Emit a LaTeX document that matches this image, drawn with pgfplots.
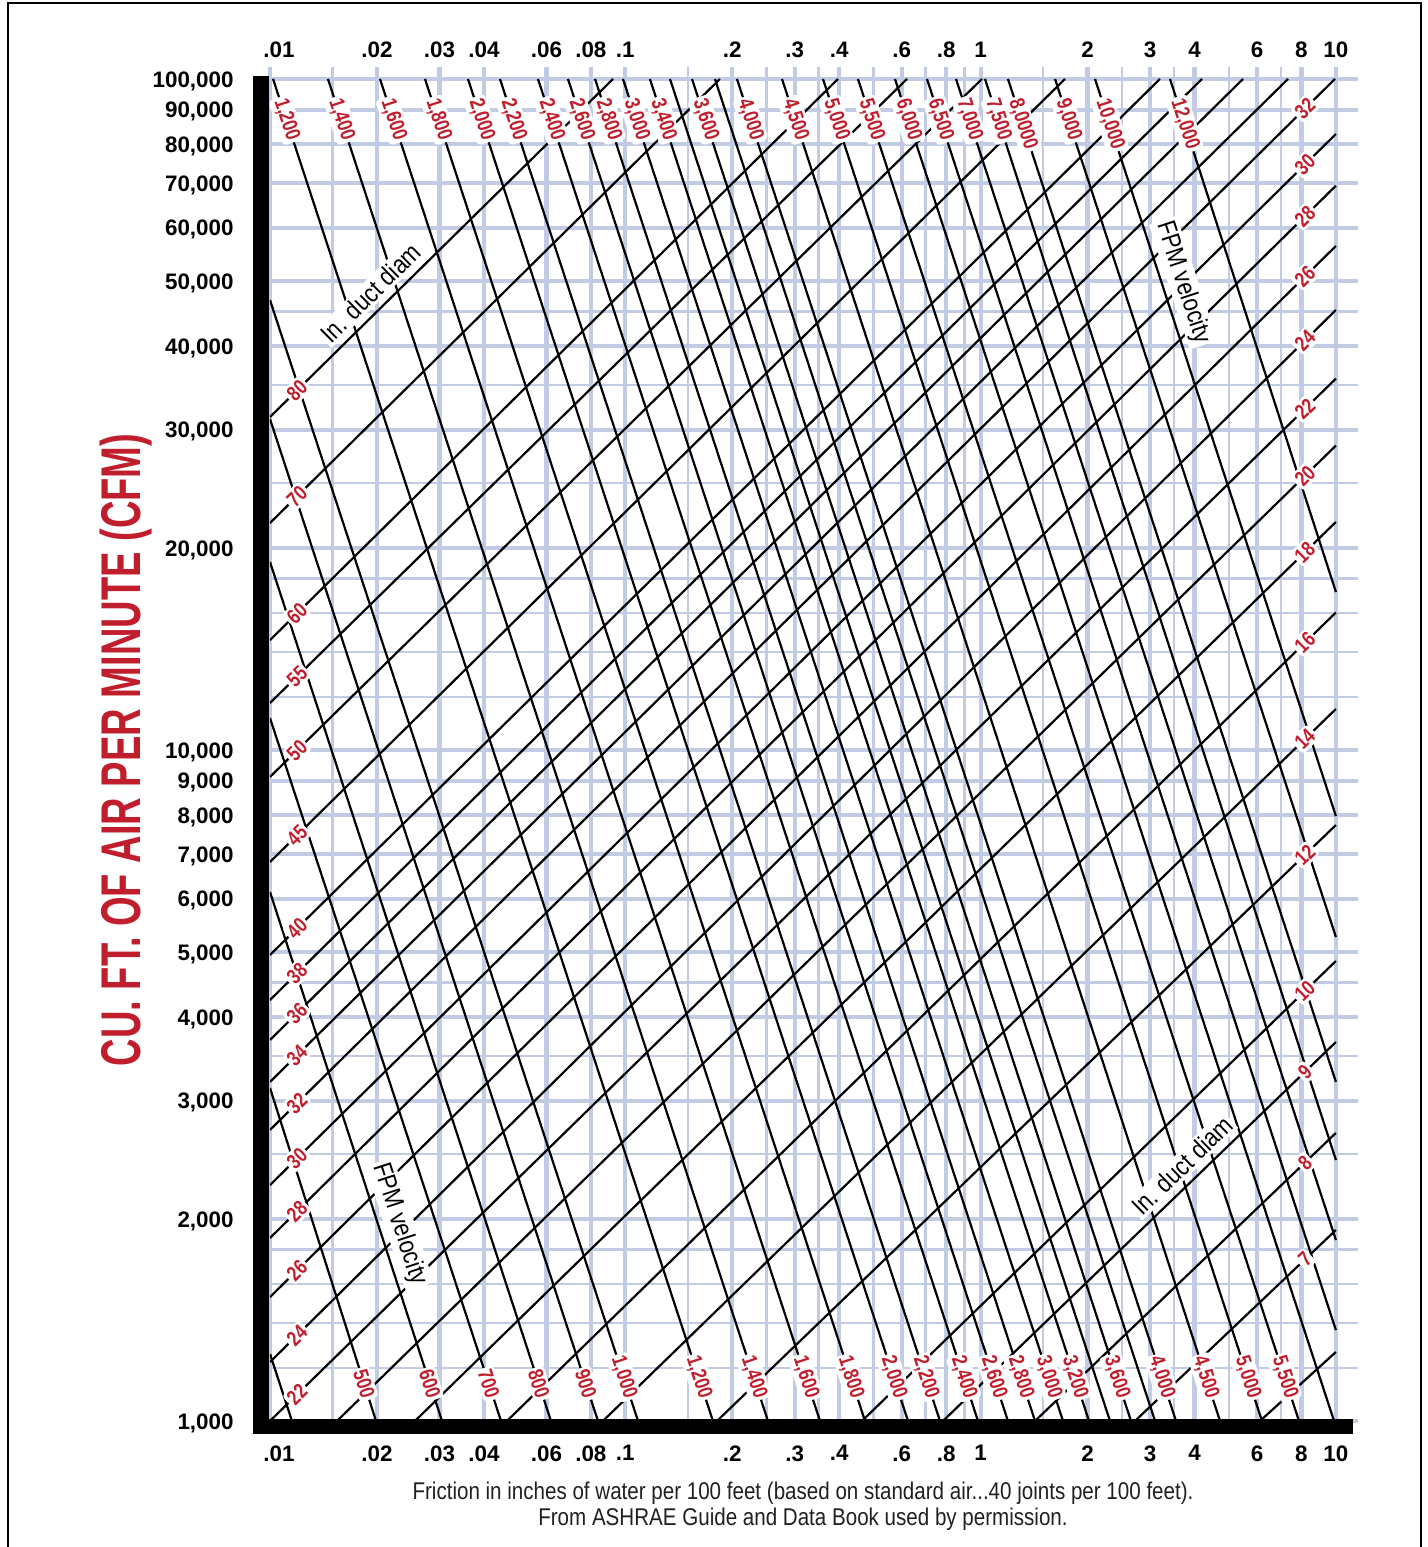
\documentclass[border=0pt]{standalone}
\usepackage{fontspec}
\setmainfont{Liberation Sans}
\newfontfamily\condf[FakeStretch=0.85]{Liberation Sans}
\newfontfamily\lblf[FakeStretch=0.8]{Liberation Sans}
\newfontfamily\titlef[FakeStretch=0.68]{Liberation Sans}
\usepackage{pgfplots}
\pgfplotsset{compat=1.18}
\definecolor{gridc}{RGB}{193,204,228}
\definecolor{lblred}{RGB}{193,30,45}
\definecolor{captc}{RGB}{35,31,32}
\newcommand{\LN}[4]{\addplot[black, line width=1.1pt] coordinates {(#1,#2) (#3,#4)};}
\newcommand{\LB}[6]{\addplot[draw=none] coordinates {(#1,#2) (#3,#4)} node[#5] {#6};}
\begin{document}
\begin{tikzpicture}[
  lbl/.style={text=lblred, font=\fontsize{10.6}{10.6}\selectfont\lblf\bfseries, fill=white, inner sep=1.2pt, rounded corners=2pt, sloped},
  ann/.style={text=black, font=\fontsize{13}{13}\selectfont\condf, fill=white, inner sep=1.2pt, outer sep=3pt, sloped, anchor=south}
]
\useasboundingbox (-135pt,-63pt) rectangle (579pt,710.5pt);
\begin{axis}[
  at={(0pt,0pt)}, anchor=south west,
  scale only axis, width=544pt, height=677pt,
  xmode=log, ymode=log,
  xmin=0.01, xmax=11.54, ymin=1000, ymax=104210,
  axis line style={draw=none},
  major tick length=0pt, minor tick length=0pt,
  xtick={0.01,0.02,0.03,0.04,0.06,0.08,0.1,0.2,0.3,0.4,0.6,0.8,1,2,3,4,6,8,10},
  xticklabels={\hspace*{9pt}.01,.02,.03,.04,.06,.08,.1,.2,.3,.4,.6,.8,1,2,3,4,6,8,10},
  minor xtick={0.015,0.15,0.25,0.35,0.5,0.7,0.9,1.5,2.5,3.5,5,7},
  ytick={1000,2000,3000,4000,5000,6000,7000,8000,9000,10000,20000,30000,40000,50000,60000,70000,80000,90000,100000},
  yticklabels={{1,000},{2,000},{3,000},{4,000},{5,000},{6,000},{7,000},{8,000},{9,000},{10,000},{20,000},{30,000},{40,000},{50,000},{60,000},{70,000},{80,000},{90,000},{100,000}},
  minor ytick={1200,1400,1600,1800,2500,3500,4500,12000,14000,16000,18000,25000,35000,45000},
  grid=both,
  major grid style={draw=gridc, line width=2.1pt},
  minor grid style={draw=gridc, line width=1.3pt},
  xticklabel style={font=\fontsize{11.2}{11.2}\selectfont\bfseries, anchor=north, inner sep=0pt, yshift=-12pt},
  yticklabel style={font=\fontsize{11.2}{11.2}\selectfont\bfseries, anchor=east, inner sep=0pt, xshift=-18pt, yshift=-1pt},
]
% ---- velocity lines (FPM)
\LN{0.01}{1259}{0.01153}{1000}
\LN{0.01}{3136}{0.01988}{1000}
\LN{0.01}{6144}{0.03049}{1000}
\LN{0.01}{11160}{0.04469}{1000}
\LN{0.01}{19070}{0.06178}{1000}
\LN{0.01}{31140}{0.08378}{1000}
\LN{0.01}{46830}{0.1086}{1000}
\LN{0.0102}{100000}{0.1765}{1000}
\LN{0.01456}{100000}{0.2521}{1000}
\LN{0.0204}{100000}{0.3532}{1000}
\LN{0.02731}{100000}{0.4728}{1000}
\LN{0.03608}{100000}{0.6248}{1000}
\LN{0.04439}{100000}{0.7687}{1000}
\LN{0.05679}{100000}{0.9833}{1000}
\LN{0.06898}{100000}{1.194}{1000}
\LN{0.08219}{100000}{1.423}{1000}
\LN{0.09851}{100000}{1.706}{1000}
\LN{0.1173}{100000}{2.019}{1000}
\LN{0.1336}{100000}{2.313}{1000}
\LN{0.1541}{100000}{2.65}{1000}
\LN{0.1788}{100000}{3.097}{1000}
\LN{0.2062}{100000}{3.548}{1000}
\LN{0.2761}{100000}{4.719}{1000}
\LN{0.3601}{100000}{6.194}{1000}
\LN{0.4517}{100000}{7.875}{1000}
\LN{0.5742}{100000}{9.88}{1000}
\LN{0.7066}{100000}{10}{1366}
\LN{0.8527}{100000}{10}{1861}
\LN{1.029}{100000}{10}{2449}
\LN{1.194}{100000}{10}{3201}
\LN{1.62}{100000}{10}{5264}
\LN{2.099}{100000}{10}{7973}
\LN{3.413}{100000}{10}{17200}
% ---- diameter lines (in.)
\LN{0.01}{31350}{0.09235}{100000}
\LN{0.01}{21790}{0.1847}{100000}
\LN{0.01}{14580}{0.3969}{100000}
\LN{0.01}{11750}{0.6207}{100000}
\LN{0.01}{9117}{1.009}{100000}
\LN{0.01}{6809}{1.728}{100000}
\LN{0.01}{4949}{3.198}{100000}
\LN{0.01}{4240}{4.199}{100000}
\LN{0.01}{3697}{5.477}{100000}
\LN{0.01}{3201}{7.332}{100000}
\LN{0.01}{2715}{9.94}{100000}
\LN{0.01}{2247}{10}{82790}
\LN{0.01}{1874}{10}{69340}
\LN{0.01}{1530}{10}{56380}
\LN{0.01}{1224}{10}{45260}
\LN{0.01}{1000}{10}{35770}
\LN{0.01544}{1000}{10}{28420}
\LN{0.02559}{1000}{10}{21870}
\LN{0.04645}{1000}{10}{16030}
\LN{0.08652}{1000}{10}{11510}
\LN{0.1812}{1000}{10}{7730}
\LN{0.4637}{1000}{10}{4848}
\LN{0.7839}{1000}{10}{3671}
\LN{1.423}{1000}{10}{2687}
\LN{2.72}{1000}{10}{1926}
\LN{6.114}{1000}{10}{1267}
% ---- top velocity labels
\LB{0.0102}{100000}{0.1765}{1000}{lbl,pos=0.0134,anchor=west}{1,200}
\LB{0.01456}{100000}{0.2521}{1000}{lbl,pos=0.0134,anchor=west}{1,400}
\LB{0.0204}{100000}{0.3532}{1000}{lbl,pos=0.0134,anchor=west}{1,600}
\LB{0.02731}{100000}{0.4728}{1000}{lbl,pos=0.0134,anchor=west}{1,800}
\LB{0.03608}{100000}{0.6248}{1000}{lbl,pos=0.0134,anchor=west}{2,000}
\LB{0.04439}{100000}{0.7687}{1000}{lbl,pos=0.0134,anchor=west}{2,200}
\LB{0.05679}{100000}{0.9833}{1000}{lbl,pos=0.0134,anchor=west}{2,400}
\LB{0.06898}{100000}{1.194}{1000}{lbl,pos=0.0134,anchor=west}{2,600}
\LB{0.08219}{100000}{1.423}{1000}{lbl,pos=0.0134,anchor=west}{2,800}
\LB{0.09851}{100000}{1.706}{1000}{lbl,pos=0.0134,anchor=west}{3,000}
\LB{0.1173}{100000}{2.019}{1000}{lbl,pos=0.0134,anchor=west}{3,400}
\LB{0.1541}{100000}{2.65}{1000}{lbl,pos=0.0134,anchor=west}{3,600}
\LB{0.2062}{100000}{3.548}{1000}{lbl,pos=0.0134,anchor=west}{4,000}
\LB{0.2761}{100000}{4.719}{1000}{lbl,pos=0.0134,anchor=west}{4,500}
\LB{0.3601}{100000}{6.194}{1000}{lbl,pos=0.0134,anchor=west}{5,000}
\LB{0.4517}{100000}{7.875}{1000}{lbl,pos=0.0134,anchor=west}{5,500}
\LB{0.5742}{100000}{9.88}{1000}{lbl,pos=0.0134,anchor=west}{6,000}
\LB{0.7066}{100000}{10}{1366}{lbl,pos=0.0144,anchor=west}{6,500}
\LB{0.8527}{100000}{10}{1861}{lbl,pos=0.0155,anchor=west}{7,000}
\LB{1.029}{100000}{10}{2449}{lbl,pos=0.0167,anchor=west}{7,500}
\LB{1.194}{100000}{10}{3201}{lbl,pos=0.0179,anchor=west}{8,0000}
\LB{1.62}{100000}{10}{5264}{lbl,pos=0.021,anchor=west}{9,000}
\LB{2.099}{100000}{10}{7973}{lbl,pos=0.0244,anchor=west}{10,000}
\LB{3.413}{100000}{10}{17200}{lbl,pos=0.0351,anchor=west}{12,000}
% ---- bottom velocity labels
\LB{0.01}{3136}{0.01988}{1000}{lbl,pos=0.937,anchor=east}{500}
\LB{0.01}{6144}{0.03049}{1000}{lbl,pos=0.9603,anchor=east}{600}
\LB{0.01}{11160}{0.04469}{1000}{lbl,pos=0.9701,anchor=east}{700}
\LB{0.01}{19070}{0.06178}{1000}{lbl,pos=0.9756,anchor=east}{800}
\LB{0.01}{31140}{0.08378}{1000}{lbl,pos=0.979,anchor=east}{900}
\LB{0.01}{46830}{0.1086}{1000}{lbl,pos=0.9813,anchor=east}{1,000}
\LB{0.0102}{100000}{0.1765}{1000}{lbl,pos=0.9844,anchor=east}{1,200}
\LB{0.01456}{100000}{0.2521}{1000}{lbl,pos=0.9844,anchor=east}{1,400}
\LB{0.0204}{100000}{0.3532}{1000}{lbl,pos=0.9844,anchor=east}{1,600}
\LB{0.02731}{100000}{0.4728}{1000}{lbl,pos=0.9844,anchor=east}{1,800}
\LB{0.03608}{100000}{0.6248}{1000}{lbl,pos=0.9844,anchor=east}{2,000}
\LB{0.04439}{100000}{0.7687}{1000}{lbl,pos=0.9844,anchor=east}{2,200}
\LB{0.05679}{100000}{0.9833}{1000}{lbl,pos=0.9844,anchor=east}{2,400}
\LB{0.06898}{100000}{1.194}{1000}{lbl,pos=0.9844,anchor=east}{2,600}
\LB{0.08219}{100000}{1.423}{1000}{lbl,pos=0.9844,anchor=east}{2,800}
\LB{0.09851}{100000}{1.706}{1000}{lbl,pos=0.9844,anchor=east}{3,000}
\LB{0.1173}{100000}{2.019}{1000}{lbl,pos=0.9844,anchor=east}{3,200}
\LB{0.1541}{100000}{2.65}{1000}{lbl,pos=0.9844,anchor=east}{3,600}
\LB{0.2062}{100000}{3.548}{1000}{lbl,pos=0.9844,anchor=east}{4,000}
\LB{0.2761}{100000}{4.719}{1000}{lbl,pos=0.9844,anchor=east}{4,500}
\LB{0.3601}{100000}{6.194}{1000}{lbl,pos=0.9844,anchor=east}{5,000}
\LB{0.4517}{100000}{7.875}{1000}{lbl,pos=0.9844,anchor=east}{5,500}
% ---- left diameter labels
\LB{0.01}{31350}{0.09235}{100000}{lbl,pos=0.0787}{80}
\LB{0.01}{21790}{0.1847}{100000}{lbl,pos=0.06}{70}
\LB{0.01}{14580}{0.3969}{100000}{lbl,pos=0.0475}{60}
\LB{0.01}{11750}{0.6207}{100000}{lbl,pos=0.0424}{55}
\LB{0.01}{9117}{1.009}{100000}{lbl,pos=0.0379}{50}
\LB{0.01}{6809}{1.728}{100000}{lbl,pos=0.034}{45}
\LB{0.01}{4949}{3.198}{100000}{lbl,pos=0.0303}{40}
\LB{0.01}{4240}{4.199}{100000}{lbl,pos=0.029}{38}
\LB{0.01}{3697}{5.477}{100000}{lbl,pos=0.0277}{36}
\LB{0.01}{3201}{7.332}{100000}{lbl,pos=0.0265}{34}
\LB{0.01}{2715}{9.94}{100000}{lbl,pos=0.0254}{32}
\LB{0.01}{2247}{10}{82790}{lbl,pos=0.0253}{30}
\LB{0.01}{1874}{10}{69340}{lbl,pos=0.0253}{28}
\LB{0.01}{1530}{10}{56380}{lbl,pos=0.0253}{26}
\LB{0.01}{1224}{10}{45260}{lbl,pos=0.0253}{24}
\LB{0.01}{1000}{10}{35770}{lbl,pos=0.0253}{22}
% ---- right diameter labels
\LB{0.01}{2715}{9.94}{100000}{lbl,pos=0.9718}{32}
\LB{0.01}{2247}{10}{82790}{lbl,pos=0.9709}{30}
\LB{0.01}{1874}{10}{69340}{lbl,pos=0.9709}{28}
\LB{0.01}{1530}{10}{56380}{lbl,pos=0.9709}{26}
\LB{0.01}{1224}{10}{45260}{lbl,pos=0.9709}{24}
\LB{0.01}{1000}{10}{35770}{lbl,pos=0.9709}{22}
\LB{0.01544}{1000}{10}{28420}{lbl,pos=0.969}{20}
\LB{0.02559}{1000}{10}{21870}{lbl,pos=0.9663}{18}
\LB{0.04645}{1000}{10}{16030}{lbl,pos=0.9626}{16}
\LB{0.08652}{1000}{10}{11510}{lbl,pos=0.9577}{14}
\LB{0.1812}{1000}{10}{7730}{lbl,pos=0.9499}{12}
\LB{0.4637}{1000}{10}{4848}{lbl,pos=0.9346}{10}
\LB{0.7839}{1000}{10}{3671}{lbl,pos=0.9211}{9}
\LB{1.423}{1000}{10}{2687}{lbl,pos=0.897}{8}
\LB{2.72}{1000}{10}{1926}{lbl,pos=0.8458}{7}
% ---- annotations
\LB{0.01}{31350}{0.09235}{100000}{ann,pos=0.33}{In. duct diam}
\LB{0.7839}{1000}{10}{3671}{ann,pos=0.64}{In. duct diam}
\LB{0.01}{6144}{0.03049}{1000}{ann,pos=0.64}{FPM velocity}
\LB{2.099}{100000}{10}{7973}{ann,pos=0.285}{FPM velocity}
\end{axis}
% top tick labels
\begin{axis}[
  at={(0pt,0pt)}, anchor=south west,
  scale only axis, width=544pt, height=677pt,
  xmode=log, ymode=log,
  xmin=0.01, xmax=11.54, ymin=1000, ymax=104210,
  axis line style={draw=none},
  major tick length=0pt, minor tick length=0pt,
  xtick={0.01,0.02,0.03,0.04,0.06,0.08,0.1,0.2,0.3,0.4,0.6,0.8,1,2,3,4,6,8,10},
  xticklabels={\hspace*{9pt}.01,.02,.03,.04,.06,.08,.1,.2,.3,.4,.6,.8,1,2,3,4,6,8,10},
  xticklabel pos=upper,
  ytick=\empty,
  xticklabel style={font=\fontsize{11.2}{11.2}\selectfont\bfseries, anchor=south, inner sep=0pt, yshift=4.5pt},
]
\addplot[draw=none] coordinates {(1,10000)};
\end{axis}
% black bars along the left and bottom edges
\fill[black] (-8.5pt,-6.5pt) rectangle (-0.5pt,672.5pt);
\fill[black] (-8.5pt,-6.5pt) rectangle (541.5pt,1pt);
% frame
\draw[line width=0.8pt] (-131pt,-63pt) -- (-131pt,709pt) -- (575.5pt,709pt) -- (575.5pt,-63pt);
% axis title
\node[rotate=90, text=lblred, font=\fontsize{28}{28}\selectfont\titlef\bfseries] at (-72pt,335.5pt) {CU. FT. OF AIR PER MINUTE (CFM)};
% caption
\node[font=\fontsize{12.1}{13}\selectfont\condf, text=captc, align=center] at (266.5pt,-42.5pt) {Friction in inches of water per 100 feet (based on standard air...40 joints per 100 feet).\\From ASHRAE Guide and Data Book used by permission.};
\end{tikzpicture}
\end{document}
